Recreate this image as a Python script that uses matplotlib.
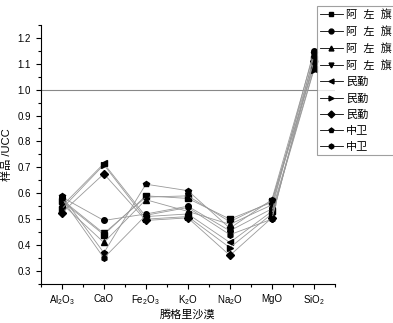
import numpy as np
import matplotlib.pyplot as plt

plt.rcParams['font.family'] = ['Liberation Sans', 'Noto Sans CJK SC', 'DejaVu Sans']
plt.rcParams['mathtext.fontset'] = 'custom'
plt.rcParams['mathtext.rm'] = 'Liberation Sans'
plt.rcParams['mathtext.it'] = 'Liberation Sans:italic'

oxides = [r'Al$_2$O$_3$', 'CaO', r'Fe$_2$O$_3$', r'K$_2$O', r'Na$_2$O', 'MgO', r'SiO$_2$']
labels = ['阿  左  旗', '阿  左  旗', '阿  左  旗', '阿  左  旗', '民勤', '民勤', '民勤', '中卫', '中卫']

s1 = [0.570, 0.440, 0.590, 0.580, 0.500, 0.565, 1.120]
s2 = [0.585, 0.495, 0.520, 0.550, 0.455, 0.540, 1.150]
s3 = [0.560, 0.410, 0.575, 0.530, 0.480, 0.555, 1.100]
s4 = [0.575, 0.445, 0.585, 0.590, 0.490, 0.570, 1.090]
s5 = [0.550, 0.715, 0.510, 0.520, 0.410, 0.530, 1.080]
s6 = [0.540, 0.710, 0.500, 0.510, 0.390, 0.520, 1.075]
s7 = [0.525, 0.675, 0.495, 0.505, 0.360, 0.505, 1.110]
s8 = [0.590, 0.370, 0.635, 0.610, 0.465, 0.575, 1.140]
s9 = [0.580, 0.350, 0.515, 0.545, 0.440, 0.500, 1.130]
series = [s1, s2, s3, s4, s5, s6, s7, s8, s9]
markers = ['s', 'o', '^', 'v', '<', '>', 'D', 'p', 'h']

fig = plt.figure(figsize=(3.93, 3.23), dpi=100)
ax = fig.add_axes([0.104, 0.121, 0.748, 0.802])

x = np.arange(len(oxides))
for vals, m, lab in zip(series, markers, labels):
    ax.plot(x, vals, color='#999999', linewidth=0.6, marker=m, markersize=4,
            markerfacecolor='black', markeredgecolor='black', label=lab)

ax.axhline(1.0, color='#888888', linewidth=0.8, zorder=0)

ax.set_xlim(-0.5, 6.5)
ax.set_ylim(0.25, 1.25)
ax.set_xticks(x)
ax.set_xticklabels(oxides, fontsize=7)
ax.set_xticks(np.arange(-0.5, 6.6, 1.0), minor=True)
ax.set_yticks(np.arange(0.3, 1.21, 0.1))
ax.set_yticklabels([f'{v:.1f}' for v in np.arange(0.3, 1.21, 0.1)], fontsize=7)
ax.set_yticks(np.arange(0.25, 1.26, 0.05), minor=True)
ax.tick_params(which='major', length=3.5, width=0.8, direction='out')
ax.tick_params(which='minor', length=2, width=0.8, direction='out')
ax.spines['top'].set_visible(False)
ax.spines['right'].set_visible(False)

ax.set_ylabel('样品 /UCC', fontsize=8, labelpad=4)
ax.set_xlabel('腾格里沙漠', fontsize=8, labelpad=1)

leg = fig.legend(loc='upper left', bbox_to_anchor=(317 / 393, 1 - 6 / 323),
                 fontsize=8, frameon=True, fancybox=False, edgecolor='#888888',
                 handlelength=2.0, labelspacing=0.55, borderpad=0.3,
                 handletextpad=0.3, borderaxespad=0)
leg.get_frame().set_linewidth(0.8)
for h in leg.legend_handles:
    h.set_color('black')
    h.set_markersize(3.5)

fig.savefig('out.png', dpi=100)
